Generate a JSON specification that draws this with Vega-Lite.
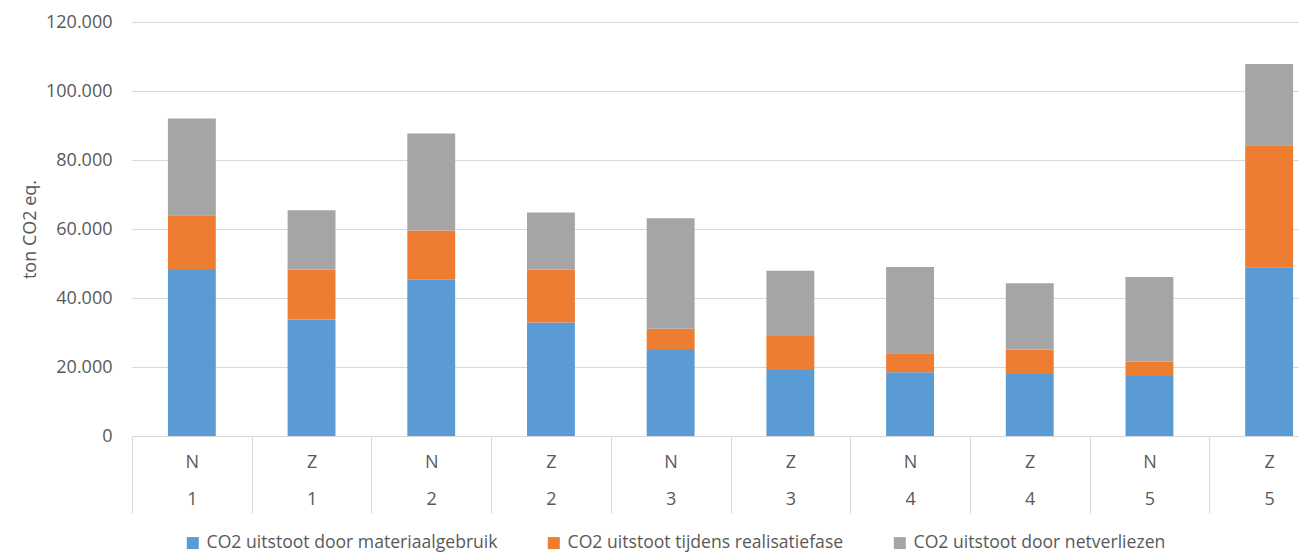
{
  "$schema": "https://vega.github.io/schema/vega-lite/v6.json",
  "width": 1167,
  "height": 414,
  "autosize": {"type": "none"},
  "padding": {"left": 132, "top": 22, "right": 0, "bottom": 117},
  "config": {
    "view": {"stroke": null},
    "font": "Open Sans",
    "axis": {"labelColor": "#595959", "titleColor": "#595959", "labelFont": "Open Sans", "titleFont": "Open Sans"},
    "legend": {"labelColor": "#595959", "labelFont": "Open Sans"}
  },
  "data": {
    "values": [
      {"key": "N|1", "series": "CO2 uitstoot door materiaalgebruik", "idx": 1, "value": 48400},
      {"key": "N|1", "series": "CO2 uitstoot tijdens realisatiefase", "idx": 2, "value": 15600},
      {"key": "N|1", "series": "CO2 uitstoot door netverliezen", "idx": 3, "value": 28000},
      {"key": "Z|1", "series": "CO2 uitstoot door materiaalgebruik", "idx": 1, "value": 33800},
      {"key": "Z|1", "series": "CO2 uitstoot tijdens realisatiefase", "idx": 2, "value": 14400},
      {"key": "Z|1", "series": "CO2 uitstoot door netverliezen", "idx": 3, "value": 17200},
      {"key": "N|2", "series": "CO2 uitstoot door materiaalgebruik", "idx": 1, "value": 45300},
      {"key": "N|2", "series": "CO2 uitstoot tijdens realisatiefase", "idx": 2, "value": 14300},
      {"key": "N|2", "series": "CO2 uitstoot door netverliezen", "idx": 3, "value": 28100},
      {"key": "Z|2", "series": "CO2 uitstoot door materiaalgebruik", "idx": 1, "value": 32900},
      {"key": "Z|2", "series": "CO2 uitstoot tijdens realisatiefase", "idx": 2, "value": 15300},
      {"key": "Z|2", "series": "CO2 uitstoot door netverliezen", "idx": 3, "value": 16600},
      {"key": "N|3", "series": "CO2 uitstoot door materiaalgebruik", "idx": 1, "value": 25200},
      {"key": "N|3", "series": "CO2 uitstoot tijdens realisatiefase", "idx": 2, "value": 5900},
      {"key": "N|3", "series": "CO2 uitstoot door netverliezen", "idx": 3, "value": 32000},
      {"key": "Z|3", "series": "CO2 uitstoot door materiaalgebruik", "idx": 1, "value": 19100},
      {"key": "Z|3", "series": "CO2 uitstoot tijdens realisatiefase", "idx": 2, "value": 9900},
      {"key": "Z|3", "series": "CO2 uitstoot door netverliezen", "idx": 3, "value": 18900},
      {"key": "N|4", "series": "CO2 uitstoot door materiaalgebruik", "idx": 1, "value": 18500},
      {"key": "N|4", "series": "CO2 uitstoot tijdens realisatiefase", "idx": 2, "value": 5500},
      {"key": "N|4", "series": "CO2 uitstoot door netverliezen", "idx": 3, "value": 25000},
      {"key": "Z|4", "series": "CO2 uitstoot door materiaalgebruik", "idx": 1, "value": 18000},
      {"key": "Z|4", "series": "CO2 uitstoot tijdens realisatiefase", "idx": 2, "value": 7100},
      {"key": "Z|4", "series": "CO2 uitstoot door netverliezen", "idx": 3, "value": 19200},
      {"key": "N|5", "series": "CO2 uitstoot door materiaalgebruik", "idx": 1, "value": 17400},
      {"key": "N|5", "series": "CO2 uitstoot tijdens realisatiefase", "idx": 2, "value": 4100},
      {"key": "N|5", "series": "CO2 uitstoot door netverliezen", "idx": 3, "value": 24600},
      {"key": "Z|5", "series": "CO2 uitstoot door materiaalgebruik", "idx": 1, "value": 48900},
      {"key": "Z|5", "series": "CO2 uitstoot tijdens realisatiefase", "idx": 2, "value": 35400},
      {"key": "Z|5", "series": "CO2 uitstoot door netverliezen", "idx": 3, "value": 23500}
    ]
  },
  "mark": {"type": "bar", "width": {"band": 0.4}},
  "encoding": {
    "x": {
      "field": "key",
      "type": "nominal",
      "sort": null,
      "scale": {"range": [0, 1197], "paddingInner": 0, "paddingOuter": 0},
      "axis": {
        "title": null,
        "labelExpr": "split(datum.label, '|')",
        "labelAngle": 0,
        "labelFontSize": 18,
        "labelLineHeight": 37,
        "labelPadding": -60,
        "labelBaseline": "top",
        "ticks": true,
        "tickBand": "extent",
        "tickSize": 77,
        "tickColor": "#d9d9d9",
        "tickWidth": 1,
        "domainColor": "#d9d9d9",
        "domainWidth": 1,
        "grid": false
      }
    },
    "y": {
      "field": "value",
      "type": "quantitative",
      "stack": "zero",
      "scale": {"domain": [0, 120000], "nice": false},
      "axis": {
        "title": "ton CO2 eq.",
        "titleFontSize": 18,
        "titleFontWeight": "normal",
        "titlePadding": 6,
        "values": [0, 20000, 40000, 60000, 80000, 100000, 120000],
        "labelExpr": "replace(format(datum.value, ','), ',', '.')",
        "labelFontSize": 18,
        "labelPadding": 20,
        "ticks": false,
        "domain": false,
        "grid": true,
        "gridColor": "#d9d9d9",
        "gridWidth": 1
      }
    },
    "color": {
      "field": "series",
      "type": "nominal",
      "sort": ["CO2 uitstoot door materiaalgebruik", "CO2 uitstoot tijdens realisatiefase", "CO2 uitstoot door netverliezen"],
      "scale": {
        "domain": ["CO2 uitstoot door materiaalgebruik", "CO2 uitstoot tijdens realisatiefase", "CO2 uitstoot door netverliezen"],
        "range": ["#5b9bd5", "#ed7d31", "#a5a5a5"]
      },
      "legend": {
        "title": null,
        "orient": "none",
        "direction": "horizontal",
        "legendX": 52,
        "legendY": 512,
        "symbolType": "square",
        "symbolSize": 144,
        "symbolStrokeWidth": 0,
        "labelFontSize": 17.6,
        "labelOffset": 5,
        "columnPadding": 47,
        "labelLimit": 400
      }
    },
    "order": {"field": "idx", "type": "quantitative"}
  }
}
